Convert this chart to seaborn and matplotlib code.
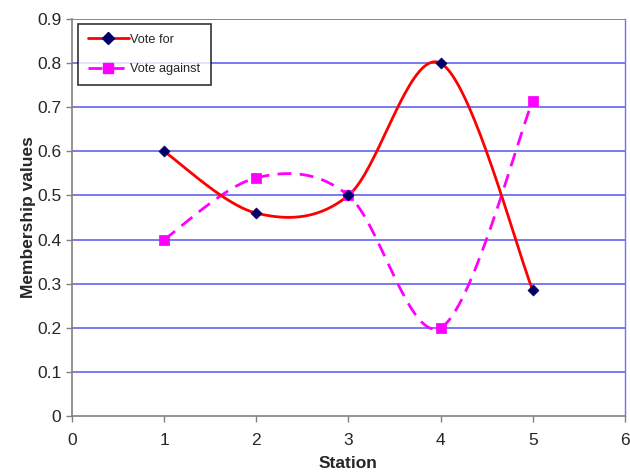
import numpy as np
import pandas as pd
import matplotlib
matplotlib.use("Agg")
import matplotlib.pyplot as plt
from matplotlib.lines import Line2D
import seaborn as sns

stations = [1, 2, 3, 4, 5]
vote_for = [0.6, 0.46, 0.5, 0.8, 0.285]
vote_against = [0.4, 0.54, 0.5, 0.2, 0.715]
x_ticks = [0, 1, 2, 3, 4, 5, 6]
y_ticks = [0, 0.1, 0.2, 0.3, 0.4, 0.5, 0.6, 0.7, 0.8, 0.9]


def smooth(xs, ys, n=40):
    """Cubic Bezier smoothing through the points (Catmull-Rom control points)."""
    p = np.column_stack([xs, ys]).astype(float)
    ext = np.vstack([p[0], p, p[-1]])
    out = []
    t = np.linspace(0, 1, n)[:, None]
    for i in range(1, len(ext) - 2):
        p0, p1, p2, p3 = ext[i - 1], ext[i], ext[i + 1], ext[i + 2]
        c1 = p1 + (p2 - p0) / 6.0
        c2 = p2 - (p3 - p1) / 6.0
        seg = ((1 - t) ** 3) * p1 + 3 * ((1 - t) ** 2) * t * c1 \
            + 3 * (1 - t) * t ** 2 * c2 + t ** 3 * p2
        out.append(seg if i == 1 else seg[1:])
    c = np.vstack(out)
    return c[:, 0], c[:, 1]


sns.set_style("white")
plt.rcParams["font.family"] = ["Liberation Sans Narrow", "Liberation Sans", "DejaVu Sans"]

fig = plt.figure(figsize=(6.3, 4.76), dpi=100)
ax = fig.add_axes([0.114, 0.126, 0.878, 0.834])

for yv in y_ticks[1:]:
    ax.axhline(yv, color="#7070f0", lw=1.3, zorder=0)

fx, fy = smooth(stations, vote_for)
gx, gy = smooth(stations, vote_against)
sns.lineplot(x=fx, y=fy, ax=ax, color="#ff0000", lw=2, sort=False, zorder=3)
sns.lineplot(x=gx, y=gy, ax=ax, color="#ff00ff", lw=2, sort=False,
             zorder=2).lines[-1].set_dashes([5, 3])
sns.scatterplot(x=stations, y=vote_for, ax=ax, marker="D", s=32,
                color="#000066", edgecolor="#000066", zorder=5)
sns.scatterplot(x=stations, y=vote_against, ax=ax, marker="s", s=45,
                color="#ff00ff", edgecolor="#ff00ff", zorder=4)

ax.set_xlim(0, 6)
ax.set_ylim(0, 0.9)
ax.set_xticks(x_ticks)
ax.set_yticks(y_ticks)
ax.set_xticklabels([str(v) for v in x_ticks])
ax.set_yticklabels(["0" if v == 0 else f"{v:.1f}" for v in y_ticks])
ax.tick_params(axis="both", which="both", direction="out", length=4,
               width=1, color="#808080", labelsize=12.5, bottom=True, left=True)
ax.tick_params(axis="x", pad=8)

for side in ["left", "bottom"]:
    ax.spines[side].set_color("#808080")
    ax.spines[side].set_linewidth(1.2)
ax.spines["top"].set_visible(False)
ax.spines["right"].set_color("#7070f0")
ax.spines["right"].set_linewidth(1)

ax.set_xlabel("Station", fontsize=12.5, fontweight="bold", labelpad=6)
ax.set_ylabel("Membership values", fontsize=12.5, fontweight="bold", labelpad=1)

handles = [
    Line2D([], [], color="#ff0000", lw=2, marker="D", markersize=6,
           markerfacecolor="#000066", markeredgecolor="#000066"),
    Line2D([], [], color="#ff00ff", lw=2, dashes=[5, 3], marker="s", markersize=7,
           markerfacecolor="#ff00ff", markeredgecolor="#ff00ff"),
]
leg = ax.legend(handles, ["Vote for", "Vote against"], loc="upper left",
                bbox_to_anchor=(0.006, 0.995), frameon=True, fancybox=False,
                edgecolor="black", fontsize=9.2, handlelength=3.2,
                handletextpad=0.12, borderpad=0.8, labelspacing=1.35,
                borderaxespad=0.2)
leg.get_frame().set_linewidth(1.2)

fig.savefig("out.png", dpi=100)
